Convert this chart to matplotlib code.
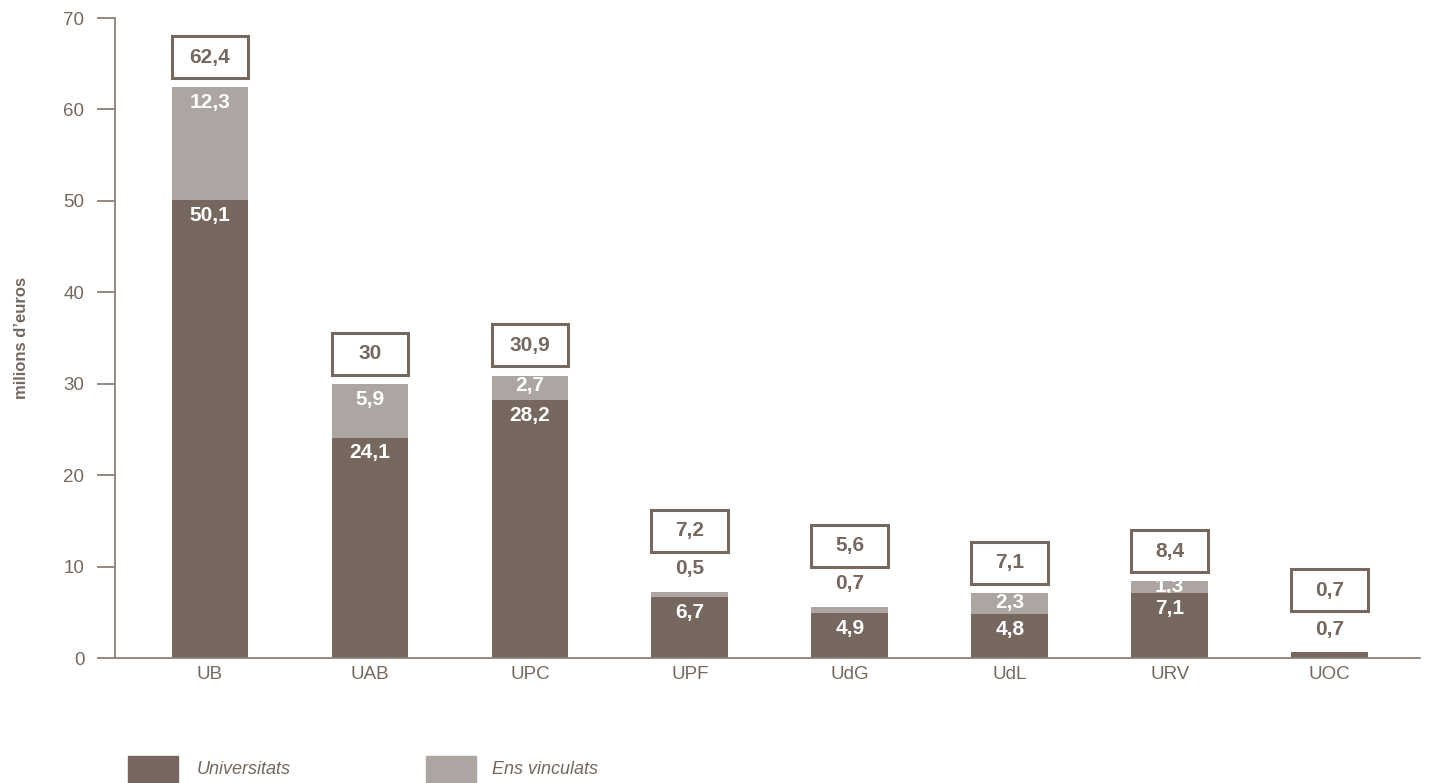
import matplotlib
matplotlib.use("Agg")
import matplotlib.pyplot as plt
from matplotlib.patches import Rectangle

DARK = "#76685f"
LIGHT = "#ada5a1"
TEXT = "#76685f"
AXIS = "#8c7f79"

universities = ["UB", "UAB", "UPC", "UPF", "UdG", "UdL", "URV", "UOC"]
universitats = [50.1, 24.1, 28.2, 6.7, 4.9, 4.8, 7.1, 0.7]
ens_vinculats = [12.3, 5.9, 2.7, 0.5, 0.7, 2.3, 1.3, 0.0]
totals = ["62,4", "30", "30,9", "7,2", "5,6", "7,1", "8,4", "0,7"]
univ_labels = ["50,1", "24,1", "28,2", "6,7", "4,9", "4,8", "7,1", "0,7"]
ens_labels = ["12,3", "5,9", "2,7", "0,5", "0,7", "2,3", "1,3", ""]
yticks = [0, 10, 20, 30, 40, 50, 60, 70]

plt.rcParams["font.family"] = ["Liberation Sans", "DejaVu Sans"]

fig = plt.figure(figsize=(14.34, 7.83), dpi=100)
ax = fig.add_axes([0.0802, 0.1596, 0.9098, 0.8174])

x = list(range(len(universities)))
width = 0.48
dark_bars = ax.bar(x, universitats, width, color=DARK, zorder=2)
light_bars = ax.bar(x, ens_vinculats, width, bottom=universitats, color=LIGHT, zorder=2)

ax.set_xlim(-0.594, 7.5625)
ax.set_ylim(0, 70)
ax.set_yticks(yticks)
ax.set_xticks(x)
ax.set_xticklabels(universities)

ax.spines["top"].set_visible(False)
ax.spines["right"].set_visible(False)
for s in ["left", "bottom"]:
    ax.spines[s].set_color(AXIS)
    ax.spines[s].set_linewidth(1.3)
ax.tick_params(axis="y", direction="out", length=13, width=1.3, color=AXIS,
               labelsize=13.5, labelcolor=TEXT, pad=9)
ax.tick_params(axis="x", length=0, labelsize=13.5, labelcolor=TEXT, pad=6)

ax.set_ylabel("milions d\u2019euros", fontsize=12, fontweight="bold", color=TEXT)
ax.yaxis.set_label_coords(-0.066, 0.5)

LBL = dict(ha="center", va="center", fontsize=15, fontweight="bold")

for i in x:
    u = universitats[i]
    e = ens_vinculats[i]
    top = u + e
    small = e < 1.0
    if e == 0:
        # only one segment: label sits above the bar
        ax.annotate(univ_labels[i], (i, top), xytext=(0, 16), textcoords="offset points",
                    color=TEXT, **LBL)
    else:
        ax.annotate(univ_labels[i], (i, u), xytext=(0, -11), textcoords="offset points",
                    color="white", zorder=3, **LBL)
        if small:
            ax.annotate(ens_labels[i], (i, top), xytext=(0, 17), textcoords="offset points",
                        color=TEXT, **LBL)
        else:
            if e > 4:
                off = -11
            elif e > 2:
                off = -7
            else:
                off = -4
            t = ax.annotate(ens_labels[i], (i, top), xytext=(0, off),
                            textcoords="offset points", color="white", zorder=3, **LBL)
            t.set_clip_path(light_bars[i])

    # total box
    gap = 4.4 if (small or e == 0) else 1.0
    box_h = 4.6
    y0 = top + gap
    ax.add_patch(Rectangle((i - width / 2, y0), width, box_h, fill=False,
                           edgecolor=DARK, linewidth=2.2, zorder=3, clip_on=False))
    ax.text(i, y0 + box_h / 2, totals[i], color=TEXT, **LBL)

# legend
fig.patches.append(Rectangle((128 / 1434, 0.0), 50 / 1434, 27 / 783,
                             transform=fig.transFigure, color=DARK))
fig.text(197 / 1434, 14 / 783, "Universitats", style="italic", fontsize=13,
         color=TEXT, va="center")
fig.patches.append(Rectangle((426 / 1434, 0.0), 50 / 1434, 27 / 783,
                             transform=fig.transFigure, color=LIGHT))
fig.text(492 / 1434, 14 / 783, "Ens vinculats", style="italic", fontsize=13,
         color=TEXT, va="center")

fig.savefig("out.png", dpi=100)
